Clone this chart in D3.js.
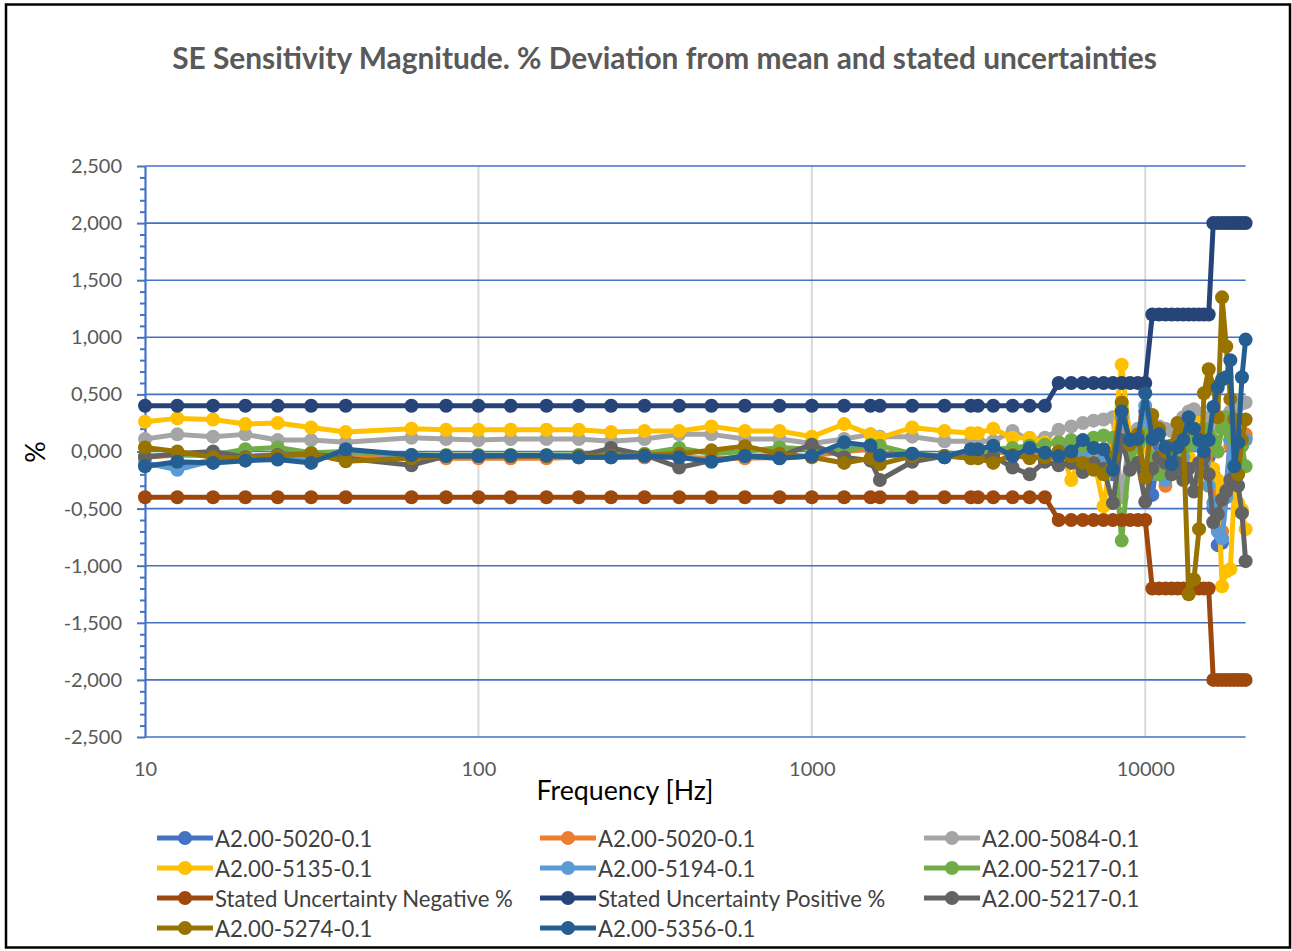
<!DOCTYPE html>
<html>
<head>
<meta charset="utf-8">
<script src="https://cdn.jsdelivr.net/npm/d3@7"></script>
<style>
  body { margin: 0; background: #fff; }
  svg { display: block; }
  text { font-family: Lato, "Open Sans", sans-serif; }
</style>
</head>
<body>
<div id="chart"></div>
<script>
// frequencies in Hz
const freqs = [10, 12.5, 16, 20, 25, 31.5, 40, 63, 80, 100, 125, 160, 200, 250, 315, 400, 500, 630, 800, 1000,
  1250, 1500, 1600, 2000, 2500, 3000, 3150, 3500, 4000, 4500, 5000,
  5500, 6000, 6500, 7000, 7500, 8000, 8500, 9000, 9500, 10000,
  10500, 11000, 11500, 12000, 12500, 13000, 13500, 14000, 14500, 15000,
  15500, 16000, 16500, 17000, 17500, 18000, 18500, 19000, 19500, 20000];

// % deviation per series (same order as freqs)
const s5020a = [-0.12, -0.12, -0.08, -0.07, -0.06, -0.08, 0.00, -0.05, -0.05, -0.05, -0.05, -0.05, -0.05, -0.05, -0.05, -0.05, -0.08, -0.05, -0.05, -0.04,
  0.05, 0.03, -0.03, -0.03, -0.05, 0.00, 0.00, 0.03, -0.04, 0.02, -0.02,
  -0.02, 0.05, -0.05, 0.00, -0.05, -0.20, 0.30, 0.10, 0.00, 0.35,
  -0.38, 0.05, -0.10, 0.00, 0.05, -0.15, 0.25, 0.10, 0.05, 0.15,
  -0.05, -0.50, -0.82, -0.80, -0.30, 0.10, -0.20, 0.05, 0.10, 0.12];
const s5020b = [-0.05, -0.03, -0.03, -0.04, -0.03, -0.05, -0.04, -0.06, -0.06, -0.06, -0.06, -0.06, -0.05, -0.05, -0.05, -0.05, -0.06, -0.06, -0.05, -0.04,
  0.00, 0.02, -0.02, -0.03, -0.04, -0.02, -0.02, 0.00, -0.02, -0.03, -0.05,
  -0.05, 0.00, -0.03, 0.02, -0.05, -0.15, 0.25, 0.05, 0.10, 0.30,
  -0.10, -0.15, -0.30, -0.10, 0.00, -0.05, 0.20, 0.15, 0.10, -0.05,
  0.00, -0.20, -0.40, -0.70, -0.35, 0.05, -0.15, 0.00, 0.05, 0.15];
const s5084 = [0.11, 0.15, 0.13, 0.15, 0.10, 0.10, 0.08, 0.12, 0.11, 0.10, 0.11, 0.11, 0.11, 0.09, 0.11, 0.15, 0.15, 0.11, 0.11, 0.07,
  0.11, 0.15, 0.13, 0.13, 0.09, 0.09, 0.09, 0.09, 0.18, 0.10, 0.12,
  0.19, 0.22, 0.25, 0.27, 0.28, 0.30, -0.40, 0.15, 0.20, 0.18,
  0.15, 0.22, 0.20, 0.18, 0.25, 0.30, 0.35, 0.37, 0.33, 0.30,
  0.28, 0.20, 0.25, 0.30, 0.28, 0.35, 0.45, 0.40, 0.42, 0.43];
const s5135 = [0.26, 0.29, 0.28, 0.24, 0.25, 0.21, 0.17, 0.20, 0.19, 0.19, 0.19, 0.19, 0.19, 0.17, 0.18, 0.18, 0.22, 0.18, 0.18, 0.13,
  0.24, 0.15, 0.12, 0.21, 0.18, 0.16, 0.16, 0.20, 0.12, 0.12, 0.08,
  0.08, -0.25, 0.00, -0.05, -0.48, 0.05, 0.76, 0.10, -0.10, 0.05,
  -0.15, -0.05, 0.05, -0.20, 0.10, 0.20, -0.05, 0.10, 0.25, -0.10,
  -0.30, -0.15, -0.25, -1.18, -1.05, -1.03, -0.35, -0.45, -0.51, -0.68];
const s5194 = [-0.10, -0.16, -0.08, -0.07, -0.06, -0.08, 0.00, -0.04, -0.04, -0.04, -0.04, -0.04, -0.05, -0.05, -0.04, -0.05, -0.08, -0.04, -0.06, -0.04,
  0.06, 0.04, -0.04, -0.03, -0.05, 0.00, 0.00, 0.04, -0.04, 0.02, -0.02,
  0.00, 0.05, -0.05, 0.02, -0.05, -0.15, 0.30, 0.05, 0.05, 0.40,
  -0.20, -0.10, -0.25, 0.05, 0.10, -0.05, 0.20, 0.20, 0.05, -0.10,
  -0.30, -0.45, -0.70, -0.76, -0.40, 0.10, -0.10, 0.00, 0.05, 0.10];
const s5217a = [-0.04, -0.03, -0.03, 0.02, 0.035, -0.01, 0.00, -0.03, -0.03, -0.03, -0.03, -0.03, -0.03, -0.02, -0.02, 0.03, -0.02, 0.00, 0.035, 0.02,
  0.00, 0.06, 0.05, -0.02, -0.04, 0.00, 0.00, 0.02, 0.03, 0.05, 0.06,
  0.08, 0.10, 0.05, 0.12, 0.14, 0.12, -0.78, 0.00, -0.10, 0.15,
  -0.05, -0.20, -0.15, 0.00, -0.05, 0.10, 0.05, 0.15, 0.10, 0.20,
  0.15, 0.10, 0.00, 0.20, 0.30, 0.15, 0.10, 0.00, 0.05, -0.13];
const uncNeg = [-0.4, -0.4, -0.4, -0.4, -0.4, -0.4, -0.4, -0.4, -0.4, -0.4, -0.4, -0.4, -0.4, -0.4, -0.4, -0.4, -0.4, -0.4, -0.4, -0.4,
  -0.4, -0.4, -0.4, -0.4, -0.4, -0.4, -0.4, -0.4, -0.4, -0.4, -0.4,
  -0.6, -0.6, -0.6, -0.6, -0.6, -0.6, -0.6, -0.6, -0.6, -0.6,
  -1.2, -1.2, -1.2, -1.2, -1.2, -1.2, -1.2, -1.2, -1.2, -1.2,
  -1.2, -2.0, -2.0, -2.0, -2.0, -2.0, -2.0, -2.0, -2.0, -2.0];
const uncPos = [0.4, 0.4, 0.4, 0.4, 0.4, 0.4, 0.4, 0.4, 0.4, 0.4, 0.4, 0.4, 0.4, 0.4, 0.4, 0.4, 0.4, 0.4, 0.4, 0.4,
  0.4, 0.4, 0.4, 0.4, 0.4, 0.4, 0.4, 0.4, 0.4, 0.4, 0.4,
  0.6, 0.6, 0.6, 0.6, 0.6, 0.6, 0.6, 0.6, 0.6, 0.6,
  1.2, 1.2, 1.2, 1.2, 1.2, 1.2, 1.2, 1.2, 1.2, 1.2,
  1.2, 2.0, 2.0, 2.0, 2.0, 2.0, 2.0, 2.0, 2.0, 2.0];
const s5217b = [-0.05, -0.02, 0.00, -0.05, -0.03, -0.02, -0.06, -0.12, -0.04, -0.04, -0.04, -0.04, -0.04, 0.03, -0.03, -0.14, -0.08, -0.04, -0.04, 0.06,
  -0.05, -0.08, -0.25, -0.09, -0.04, -0.05, -0.05, -0.04, -0.14, -0.20, -0.09,
  -0.12, -0.10, -0.18, -0.10, -0.15, -0.45, 0.10, -0.16, -0.10, -0.44,
  -0.15, -0.05, -0.10, -0.20, -0.10, -0.25, -0.15, -0.35, -0.10, -0.05,
  -0.20, -0.62, -0.55, -0.42, -0.35, -0.25, -0.22, -0.30, -0.54, -0.96];
const s5274 = [0.035, 0.00, -0.05, -0.06, -0.04, -0.02, -0.085, -0.06, -0.04, -0.04, -0.04, -0.04, -0.04, -0.04, -0.03, -0.02, 0.01, 0.047, -0.02, -0.05,
  -0.10, -0.06, -0.11, -0.04, -0.04, -0.06, -0.06, -0.10, -0.03, -0.06, -0.05,
  0.00, -0.04, -0.10, -0.16, -0.20, -0.05, 0.43, 0.06, 0.15, -0.23,
  0.32, 0.20, 0.00, 0.05, 0.25, 0.15, -1.25, -1.12, -0.68, 0.51,
  0.72, 0.57, 0.30, 1.35, 0.92, 0.46, 0.28, -0.20, 0.10, 0.28];
const s5356 = [-0.13, -0.09, -0.10, -0.08, -0.07, -0.10, 0.02, -0.03, -0.04, -0.04, -0.035, -0.035, -0.05, -0.05, -0.04, -0.05, -0.09, -0.04, -0.06, -0.04,
  0.08, 0.05, -0.035, -0.02, -0.05, 0.02, 0.02, 0.05, -0.04, 0.03, -0.01,
  -0.04, 0.00, 0.10, 0.03, 0.02, -0.16, 0.35, 0.10, 0.11, 0.51,
  0.11, 0.15, 0.04, -0.11, 0.04, 0.10, 0.30, 0.20, 0.10, 0.00,
  0.10, 0.39, 0.56, 0.63, 0.65, 0.80, -0.13, 0.08, 0.65, 0.98];

const seriesNames = ["A2.00-5020-0.1", "A2.00-5020-0.1", "A2.00-5084-0.1", "A2.00-5135-0.1", "A2.00-5194-0.1", "A2.00-5217-0.1",
  "Stated Uncertainty Negative %", "Stated Uncertainty Positive %", "A2.00-5217-0.1", "A2.00-5274-0.1", "A2.00-5356-0.1"];
const seriesValues = [s5020a, s5020b, s5084, s5135, s5194, s5217a, uncNeg, uncPos, s5217b, s5274, s5356];
const seriesColors = ["#4472C4", "#ED7D31", "#A5A5A5", "#FFC000", "#5B9BD5", "#70AD47",
  "#9E480E", "#264478", "#636363", "#997300", "#255E91"];

const yTicks = [-2.5, -2, -1.5, -1, -0.5, 0, 0.5, 1, 1.5, 2, 2.5];
const yMinor = [-2.4, -2.3, -2.2, -2.1, -1.9, -1.8, -1.7, -1.6, -1.4, -1.3, -1.2, -1.1, -0.9, -0.8, -0.7, -0.6, -0.4, -0.3, -0.2, -0.1,
  0.1, 0.2, 0.3, 0.4, 0.6, 0.7, 0.8, 0.9, 1.1, 1.2, 1.3, 1.4, 1.6, 1.7, 1.8, 1.9, 2.1, 2.2, 2.3, 2.4];
const xTicks = [10, 100, 1000, 10000];

const W = 1292, H = 951;
const plotLeft = 145, plotRight = 1245.6, plotTop = 166, plotBottom = 737;

const locale = d3.formatLocale({ decimal: ",", thousands: ".", grouping: [3], currency: ["", ""], minus: "-" });
const yFmt = locale.format(".3f");

const svg = d3.select("#chart").append("svg")
  .attr("width", W)
  .attr("height", H);

svg.append("rect")
  .attr("x", 6).attr("y", 4.5)
  .attr("width", 1284).attr("height", 943)
  .attr("fill", "#fff")
  .attr("stroke", "#000")
  .attr("stroke-width", 2.5);

const x = d3.scaleLog().domain([10, 20000]).range([plotLeft, plotRight]);
const y = d3.scaleLinear().domain([-2.5, 2.5]).range([plotBottom, plotTop]);

// scale a text's font so that a reference string gets the wanted width
const fitSize = (str, target, weight) => {
  const t = svg.append("text").attr("font-size", 20).attr("font-weight", weight || "normal").text(str);
  const w = t.node().getComputedTextLength();
  t.remove();
  return 20 * target / w;
};

const tickSize = fitSize("10000", 58);
const titleSize = fitSize("SE Sensitivity Magnitude. % Deviation from mean and stated uncertainties", 985, "bold");
const legendSize = fitSize("Stated Uncertainty Negative %", 298);
const axisTitleSize = fitSize("Frequency [Hz]", 177);

// title
svg.append("text")
  .attr("x", 664.5)
  .attr("y", 57)
  .attr("dominant-baseline", "central")
  .attr("text-anchor", "middle")
  .attr("font-weight", "bold")
  .attr("font-size", titleSize)
  .attr("fill", "#595959")
  .text("SE Sensitivity Magnitude. % Deviation from mean and stated uncertainties");

// vertical gridlines
svg.append("g")
  .selectAll("line")
  .data(xTicks.slice(1))
  .enter().append("line")
  .attr("x1", d => x(d)).attr("x2", d => x(d))
  .attr("y1", plotTop).attr("y2", plotBottom)
  .attr("stroke", "#D9D9D9")
  .attr("stroke-width", 2);

// horizontal gridlines
svg.append("g")
  .selectAll("line")
  .data(yTicks)
  .enter().append("line")
  .attr("x1", plotLeft).attr("x2", plotRight)
  .attr("y1", d => y(d)).attr("y2", d => y(d))
  .attr("stroke", "#4472C4")
  .attr("stroke-width", 1.6);

// y axis, minor then major ticks
const yMinorAxis = svg.append("g")
  .attr("transform", `translate(${plotLeft},0)`)
  .call(d3.axisLeft(y).tickValues(yMinor).tickSize(5).tickFormat(""));
yMinorAxis.select(".domain").remove();
yMinorAxis.selectAll("line").attr("stroke", "#4472C4").attr("stroke-width", 2);

const yAxis = svg.append("g")
  .attr("transform", `translate(${plotLeft},0)`)
  .call(d3.axisLeft(y).tickValues(yTicks).tickSize(8).tickPadding(15).tickSizeOuter(0).tickFormat(yFmt));
yAxis.select(".domain").attr("stroke", "#4472C4").attr("stroke-width", 2.2);
yAxis.selectAll("line").attr("stroke", "#4472C4").attr("stroke-width", 2);
yAxis.selectAll("text")
  .attr("font-size", tickSize)
  .attr("font-family", "Lato, 'Open Sans', sans-serif")
  .attr("fill", "#595959");

// x axis labels
const xAxis = svg.append("g")
  .attr("transform", `translate(0,${plotBottom})`)
  .call(d3.axisBottom(x).tickValues(xTicks).tickSize(0).tickPadding(25).tickFormat(d3.format("d")));
xAxis.select(".domain").remove();
xAxis.selectAll("text")
  .attr("font-size", tickSize)
  .attr("font-family", "Lato, 'Open Sans', sans-serif")
  .attr("fill", "#595959");

// axis titles
svg.append("text")
  .attr("x", 625)
  .attr("y", 790)
  .attr("dominant-baseline", "central")
  .attr("text-anchor", "middle")
  .attr("font-size", axisTitleSize)
  .attr("fill", "#000")
  .text("Frequency [Hz]");

svg.append("text")
  .attr("transform", "translate(35,452) rotate(-90)")
  .attr("dominant-baseline", "central")
  .attr("text-anchor", "middle")
  .attr("font-size", axisTitleSize)
  .attr("fill", "#000")
  .text("%");

// series
const line = d3.line()
  .x(d => x(d.f))
  .y(d => y(d.v));

const plot = svg.append("g");
seriesValues.forEach((vals, i) => {
  const pts = vals.map((v, j) => ({ f: freqs[j], v: v }));
  const g = plot.append("g");
  g.append("path")
    .datum(pts)
    .attr("d", line)
    .attr("fill", "none")
    .attr("stroke", seriesColors[i])
    .attr("stroke-width", 5)
    .attr("stroke-linejoin", "round")
    .attr("stroke-linecap", "round");
  g.selectAll("circle")
    .data(pts)
    .enter().append("circle")
    .attr("cx", d => x(d.f))
    .attr("cy", d => y(d.v))
    .attr("r", 7)
    .attr("fill", seriesColors[i]);
});

// legend
const legendCols = [157, 540, 924];
const legendRows = [838, 868, 898, 928];
const legend = svg.append("g")
  .selectAll("g")
  .data(seriesNames)
  .enter().append("g")
  .attr("transform", (d, i) => `translate(${legendCols[i % 3]},${legendRows[Math.floor(i / 3)]})`);
legend.append("line")
  .attr("x1", 0).attr("x2", 56)
  .attr("stroke", (d, i) => seriesColors[i])
  .attr("stroke-width", 5);
legend.append("circle")
  .attr("cx", 28)
  .attr("r", 7)
  .attr("fill", (d, i) => seriesColors[i]);
legend.append("text")
  .attr("x", 58)
  .attr("dominant-baseline", "central")
  .attr("font-size", legendSize)
  .attr("fill", "#404040")
  .text(d => d);
</script>
</body>
</html>
